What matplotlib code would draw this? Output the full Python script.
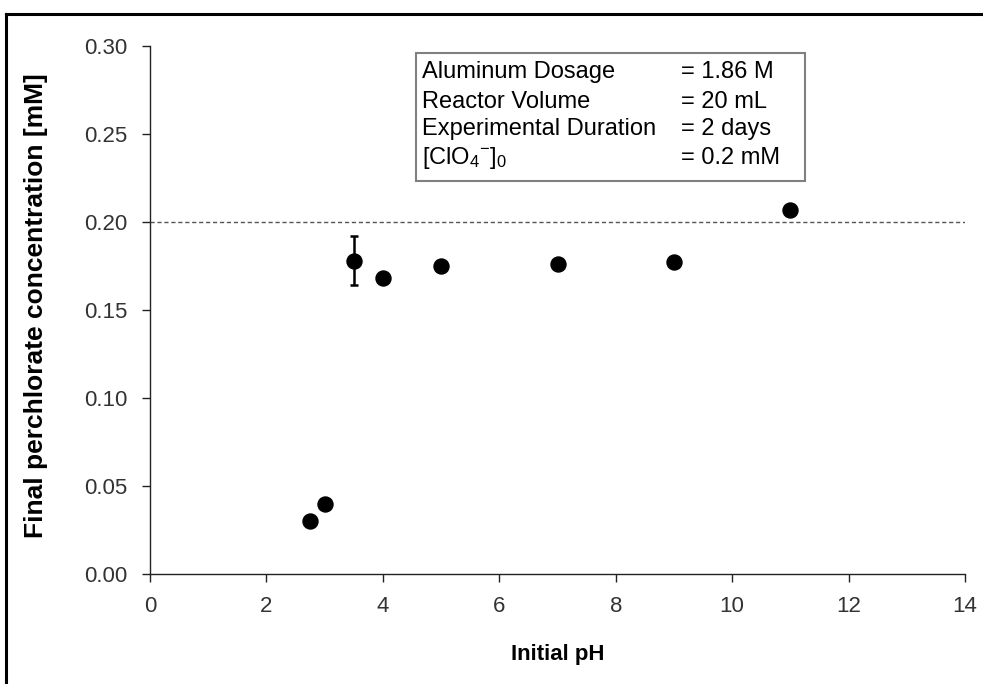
import matplotlib.pyplot as plt
import numpy as np
from matplotlib.lines import Line2D
from matplotlib.patches import Rectangle

plt.rcParams["font.family"] = ["Liberation Sans", "DejaVu Sans"]
plt.rcParams["mathtext.fontset"] = "custom"
plt.rcParams["mathtext.rm"] = "Liberation Sans"
plt.rcParams["mathtext.it"] = "Liberation Sans"

# Data
initial_ph = [2.75, 3.0, 3.5, 4.0, 5.0, 7.0, 9.0, 11.0]
final_conc = [0.030, 0.040, 0.178, 0.168, 0.175, 0.176, 0.177, 0.207]
conc_err = [0, 0, 0.014, 0, 0, 0, 0, 0]
initial_conc = 0.2

box_labels = ["Aluminum Dosage", "Reactor Volume", "Experimental Duration",
              r"[ClO$_4$$^{-}$]$_0$"]
box_values = ["= 1.86 M", "= 20 mL", "= 2 days", "= 0.2 mM"]

W, H = 983, 684
fig = plt.figure(figsize=(W / 100, H / 100), dpi=100)


def fx(px):
    return px / W


def fy(py):
    return 1 - py / H


ax = fig.add_axes([fx(150), fy(574), fx(965) - fx(150), fy(46) - fy(574)])

# outer frame (only top and left visible)
fig.add_artist(Line2D([fx(6), 1], [fy(14), fy(14)], color="black", lw=2.2,
                      transform=fig.transFigure))
fig.add_artist(Line2D([fx(6), fx(6)], [fy(14), 0], color="black", lw=2.2,
                      transform=fig.transFigure))

ax.axhline(initial_conc, color="#555555", lw=1, ls=(0, (3, 2)), zorder=1)

# all points, then the error bar on the pH 3.5 point
ax.plot(initial_ph, final_conc, "o", color="black", ms=10.8, zorder=3)
err = np.array(conc_err)
mask = err > 0
ax.errorbar(np.array(initial_ph)[mask], np.array(final_conc)[mask],
            yerr=err[mask], fmt="none", ecolor="black", elinewidth=1.8,
            capsize=3, capthick=1.8, zorder=2)

ax.set_xlim(0, 14)
ax.set_ylim(0, 0.30)
ax.set_xticks(np.arange(0, 15, 2))
ax.set_yticks(np.arange(0, 0.31, 0.05))
ax.yaxis.set_major_formatter(plt.FuncFormatter(lambda v, p: f"{v:.2f}"))
ax.spines["top"].set_visible(False)
ax.spines["right"].set_visible(False)
for s in ["left", "bottom"]:
    ax.spines[s].set_color("#222222")
    ax.spines[s].set_linewidth(1)
ax.tick_params(direction="out", length=6, width=1, color="#222222",
               labelsize=16, labelcolor="#333333", pad=10)

ax.set_xlabel("Initial pH", fontsize=16, fontweight="bold", labelpad=19)
fig.text(fx(36), fy(306), "Final perchlorate concentration [mM]",
         fontsize=19, fontweight="bold", rotation=90, ha="center",
         va="center")

# info box
fig.add_artist(Rectangle((fx(416), fy(181)), fx(805) - fx(416),
                         fy(53) - fy(181), transform=fig.transFigure,
                         facecolor="white", edgecolor="#808080", lw=1.5))
line_y = [72, 102, 129, 158]
for lab, val, yy in zip(box_labels, box_values, line_y):
    fig.text(fx(422), fy(yy), lab, fontsize=17, va="center", ha="left")
    fig.text(fx(681), fy(yy), val, fontsize=17, va="center", ha="left")

fig.savefig("out.png", dpi=100)
